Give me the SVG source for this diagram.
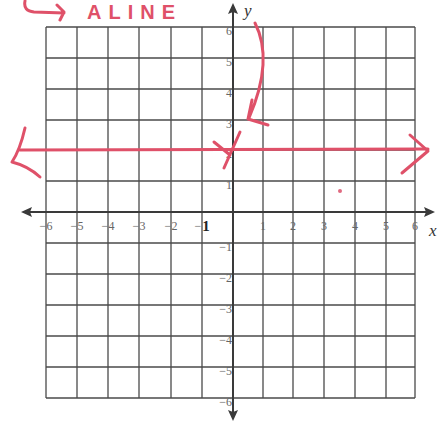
<svg xmlns="http://www.w3.org/2000/svg" width="438" height="423" viewBox="0 0 438 423">
<defs>
<style>
.grid line{stroke:#4a4a4a;stroke-width:1.3}
.axis{stroke:#3a3a3a;stroke-width:2;fill:none}
.ah{fill:#3a3a3a}
.tk{font-family:"Liberation Serif",serif;font-size:12px;fill:#666}
.tkb{font-family:"Liberation Serif",serif;font-size:15px;font-weight:bold;fill:#222}
.lab{font-family:"Liberation Serif",serif;font-style:italic;font-size:17px;fill:#333}
.red{stroke:#df5169;stroke-width:3;fill:none;stroke-linecap:round;stroke-linejoin:round}
</style>
</defs>
<rect width="438" height="423" fill="#fff"/>
<g id="grid" class="grid">
<line x1="46" y1="27" x2="46" y2="398"/><line x1="77" y1="27" x2="77" y2="398"/><line x1="108" y1="27" x2="108" y2="398"/><line x1="139" y1="27" x2="139" y2="398"/><line x1="171" y1="27" x2="171" y2="398"/><line x1="202" y1="27" x2="202" y2="398"/><line x1="263" y1="27" x2="263" y2="398"/><line x1="293" y1="27" x2="293" y2="398"/><line x1="324" y1="27" x2="324" y2="398"/><line x1="355" y1="27" x2="355" y2="398"/><line x1="386" y1="27" x2="386" y2="398"/><line x1="415" y1="27" x2="415" y2="398"/>
<line x1="46" y1="27" x2="415" y2="27"/><line x1="46" y1="58" x2="415" y2="58"/><line x1="46" y1="89" x2="415" y2="89"/><line x1="46" y1="120" x2="415" y2="120"/><line x1="46" y1="150" x2="415" y2="150"/><line x1="46" y1="181" x2="415" y2="181"/><line x1="46" y1="243" x2="415" y2="243"/><line x1="46" y1="274" x2="415" y2="274"/><line x1="46" y1="305" x2="415" y2="305"/><line x1="46" y1="336" x2="415" y2="336"/><line x1="46" y1="367" x2="415" y2="367"/><line x1="46" y1="398" x2="415" y2="398"/>
</g>
<g id="axes">
<line class="axis" x1="28" y1="212" x2="428" y2="212"/>
<polygon class="ah" points="21,212 32,207 30,212 32,217"/>
<polygon class="ah" points="435,212 424,207 426,212 424,217"/>
<line class="axis" x1="233" y1="10" x2="233" y2="416"/>
<polygon class="ah" points="233,3 228,14 233,12 238,14"/>
<polygon class="ah" points="233,421 228,410 233,412 238,410"/>
<text class="lab" x="244" y="16">y</text>
<text class="lab" x="429" y="236">x</text>
</g>
<g id="xlabels" class="tk" text-anchor="middle">
<text x="46" y="230">−6</text><text x="77" y="230">−5</text><text x="108" y="230">−4</text><text x="139" y="230">−3</text><text x="171" y="230">−2</text>
<text x="198" y="230">−</text>
<text x="263" y="230">1</text><text x="293" y="230">2</text><text x="324" y="230">3</text><text x="355" y="230">4</text><text x="386" y="230">5</text><text x="415" y="230">6</text>
</g>
<text class="tkb" x="206" y="231" text-anchor="middle">1</text>
<g id="ylabels" class="tk" text-anchor="end">
<text x="232" y="35">6</text><text x="232" y="66">5</text><text x="232" y="97">4</text><text x="232" y="128">3</text><text x="232" y="158">2</text><text x="232" y="189">1</text>
<text x="232" y="251">−1</text><text x="232" y="282">−2</text><text x="232" y="313">−3</text><text x="232" y="344">−4</text><text x="232" y="375">−5</text><text x="232" y="406">−6</text>
</g>
<g id="annotations">
<path class="red" d="M25,1 Q23,11 34,12 L64,13 M57,5 L64,12 L60,20"/>
<text x="87" y="19" font-family="Liberation Sans,Arial,sans-serif" font-size="20" font-weight="bold" letter-spacing="7" fill="#df5169">ALINE</text>
<path class="red" d="M20,150 L428,149"/>
<path class="red" d="M25,128 Q20,150 12,162 Q28,166 40,177"/>
<path class="red" d="M410,135 L428,151 L402,173"/>
<path class="red" d="M255,23 Q274,60 249,118 M252,100 L248,119 L268,125"/>
<path class="red" d="M214,142 L230,155 M240,132 L224,168"/>
<circle cx="340" cy="191" r="2" fill="#e06a80"/>
</g>
</svg>
